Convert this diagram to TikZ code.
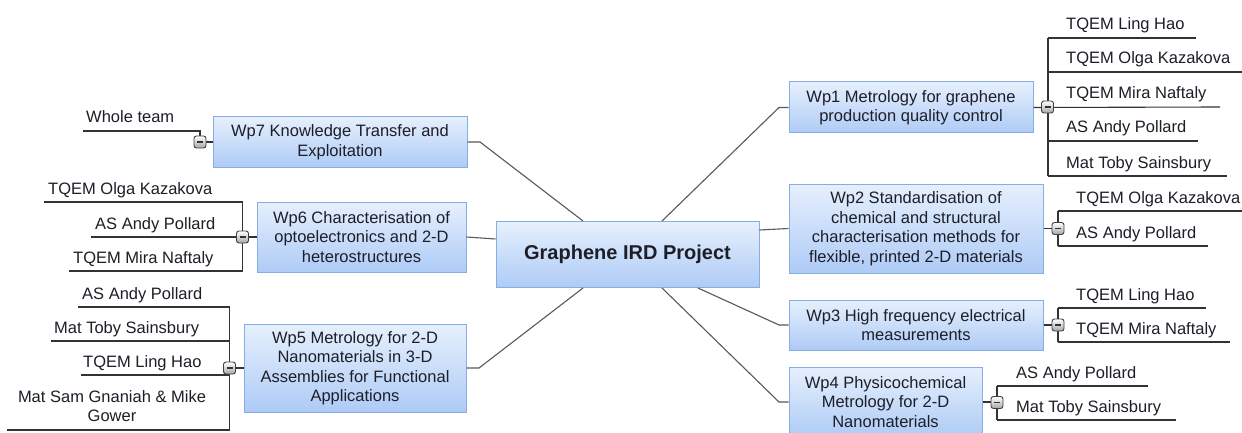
\documentclass[tikz,border=0pt]{standalone}
\usepackage{fontspec}
\setmainfont{Liberation Sans}
\definecolor{boxborder}{HTML}{86AEE2}
\definecolor{boxtop}{HTML}{E6F0FD}
\definecolor{boxbot}{HTML}{AECBF6}
\definecolor{txt}{HTML}{1E1E28}
\begin{document}
\begin{tikzpicture}[x=1pt,y=-1pt,
  font=\fontsize{16.5}{19.5}\selectfont,
  wp/.style={draw=boxborder, line width=1pt, top color=boxtop, bottom color=boxbot,
    align=center, inner sep=0pt, text=txt},
  btn/.style={draw=black!75, rounded corners=2.5pt, minimum width=12pt, minimum height=12pt,
    inner sep=0pt, top color=white, bottom color=black!35, line width=0.9pt,
    path picture={\draw[line width=1.4pt, black!80]
      ([xshift=-3pt]path picture bounding box.center) -- ([xshift=3pt]path picture bounding box.center);}},
  conn/.style={draw=black!65, line width=1.1pt},
  leaf/.style={draw=black!80, line width=1.1pt},
  lbl/.style={inner sep=0pt, text=txt}]
\clip (0,0) rectangle (1242,433);
\fill[white] (0,0) rectangle (1242,433);

% ---------- central and work packages ----------
\node[wp, minimum width=263pt, minimum height=66pt, font=\fontsize{20}{24}\selectfont\bfseries] (c) at (627.5,254.5) {Graphene IRD Project};
\node[wp, minimum width=244pt, minimum height=51pt] (w1) at (911,107.5) {Wp1 Metrology for graphene\\production quality control};
\node[wp, minimum width=254pt, minimum height=89pt] (w2) at (916,228.5) {Wp2 Standardisation of\\chemical and structural\\characterisation methods for\\flexible, printed 2-D materials};
\node[wp, minimum width=254pt, minimum height=50pt] (w3) at (916,325) {Wp3 High frequency electrical\\measurements};
\node[wp, minimum width=193pt, minimum height=70pt] (w4) at (885.5,402) {Wp4 Physicochemical\\Metrology for 2-D\\Nanomaterials};
\node[wp, minimum width=254pt, minimum height=50pt] (w7) at (340,142) {Wp7 Knowledge Transfer and\\Exploitation};
\node[wp, minimum width=209pt, minimum height=70pt] (w6) at (361.5,237) {Wp6 Characterisation of\\optoelectronics and 2-D\\heterostructures};
\node[wp, minimum width=222pt, minimum height=88pt] (w5) at (355,368) {Wp5 Metrology for 2-D\\Nanomaterials in 3-D\\Assemblies for Functional\\Applications};

% ---------- central connectors ----------
\coordinate (s1) at (662,221);   \coordinate (b1) at (779,107.5);
\coordinate (s2) at (759.5,230);
\coordinate (s3) at (698,288);   \coordinate (b3) at (779,325);
\coordinate (s4) at (662,288);   \coordinate (b4) at (779,402);
\coordinate (s7) at (583,221);   \coordinate (b7) at (480,142);
\coordinate (s6) at (495.5,239);
\coordinate (s5) at (583,288);   \coordinate (b5) at (479,368);
\begin{scope}[on background layer/.style={}]
\draw[conn] (s1) -- (b1) -- (w1.west);
\draw[conn] (s2) -- (w2.west);
\draw[conn] (s3) -- (b3) -- (w3.west);
\draw[conn] (s4) -- (b4) -- (w4.west);
\draw[conn] (s7) -- (b7) -- (w7.east);
\draw[conn] (s6) -- (w6.east);
\draw[conn] (s5) -- (b5) -- (w5.east);
\end{scope}

% ---------- Wp1 leaves ----------
\draw[leaf] (1048,38) -- (1048,176);
\draw[leaf] (1048,38) -- (1196,38);
\draw[leaf] (1048,72) -- (1243,72);
\draw[leaf] (w1.east) -- (1220,107);
\draw[leaf] (1048,141) -- (1198,141);
\draw[leaf] (1048,176) -- (1227,176);
\node[btn] (k1) at (1047.5,107) {};
\node[lbl, anchor=base west] (l11) at (1066,30) {TQEM Ling Hao};
\node[lbl, anchor=base west] (l12) at (1066,64) {TQEM Olga Kazakova};
\node[lbl, anchor=base west] (l13) at (1066,99) {TQEM Mira Naftaly};
\node[lbl, anchor=base west] (l14) at (1066,133) {AS Andy Pollard};
\node[lbl, anchor=base west] (l15) at (1066,168) {Mat Toby Sainsbury};

% ---------- Wp2 leaves ----------
\draw[leaf] (w2.east) -- (1058,228.5);
\draw[leaf] (1058,211) -- (1058,246);
\draw[leaf] (1058,211) -- (1243,211);
\draw[leaf] (1058,246) -- (1208,246);
\node[btn] (k2) at (1058,228.5) {};
\node[lbl, anchor=base west] (l21) at (1076,203) {TQEM Olga Kazakova};
\node[lbl, anchor=base west] (l22) at (1076,238) {AS Andy Pollard};

% ---------- Wp3 leaves ----------
\draw[leaf] (w3.east) -- (1058,325);
\draw[leaf] (1058,308) -- (1058,342);
\draw[leaf] (1058,308) -- (1206,308);
\draw[leaf] (1058,342) -- (1230,342);
\node[btn] (k3) at (1058,325) {};
\node[lbl, anchor=base west] (l31) at (1076,300) {TQEM Ling Hao};
\node[lbl, anchor=base west] (l32) at (1076,334) {TQEM Mira Naftaly};

% ---------- Wp4 leaves ----------
\draw[leaf] (w4.east) -- (997,402);
\draw[leaf] (997,386) -- (997,420);
\draw[leaf] (997,386) -- (1148,386);
\draw[leaf] (997,420) -- (1176,420);
\node[btn] (k4) at (997,402.5) {};
\node[lbl, anchor=base west] (l41) at (1016,378) {AS Andy Pollard};
\node[lbl, anchor=base west] (l42) at (1016,412) {Mat Toby Sainsbury};

% ---------- Wp7 leaves ----------
\draw[leaf] (w7.west) -- (200,142);
\draw[leaf] (200,142) -- (200,131) -- (83,131);
\node[btn] (k7) at (200,142) {};
\node[lbl, anchor=base west] (l71) at (86,123) {Whole team};

% ---------- Wp6 leaves ----------
\draw[leaf] (w6.west) -- (242.5,237);
\draw[leaf] (242.5,202) -- (242.5,271);
\draw[leaf] (242.5,202) -- (44,202);
\draw[leaf] (242.5,237) -- (91,237);
\draw[leaf] (242.5,271) -- (69,271);
\node[btn] (k6) at (242.5,237) {};
\node[lbl, anchor=base west] (l61) at (48,194) {TQEM Olga Kazakova};
\node[lbl, anchor=base west] (l62) at (95,229) {AS Andy Pollard};
\node[lbl, anchor=base west] (l63) at (73,263) {TQEM Mira Naftaly};

% ---------- Wp5 leaves ----------
\draw[leaf] (w5.west) -- (229.5,368);
\draw[leaf] (229.5,307) -- (229.5,430);
\draw[leaf] (229.5,307) -- (78,307);
\draw[leaf] (229.5,341) -- (51,341);
\draw[leaf] (229.5,375) -- (81,375);
\draw[leaf] (229.5,430) -- (7,430);
\node[btn] (k5) at (229.5,368) {};
\node[lbl, anchor=base west] (l51) at (82,299) {AS Andy Pollard};
\node[lbl, anchor=base west] (l52) at (54,333) {Mat Toby Sainsbury};
\node[lbl, anchor=base west] (l53) at (83,367) {TQEM Ling Hao};
\node[lbl, align=center, anchor=center] (l54) at (112,406) {Mat Sam Gnaniah \& Mike\\Gower};
\end{tikzpicture}
\end{document}
